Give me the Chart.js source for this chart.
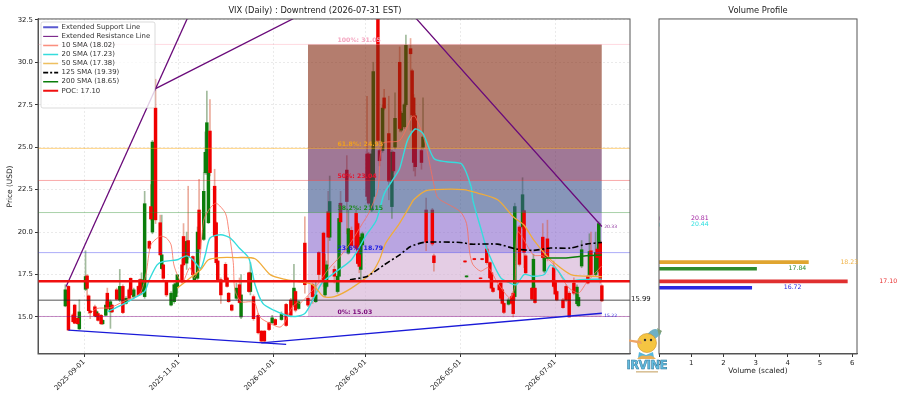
<!DOCTYPE html>
<html><head><meta charset="utf-8">
<style>
html,body{margin:0;padding:0;background:#fff;overflow:hidden}
#wrap{position:relative;width:900px;height:400px}
canvas{position:absolute;top:0}
#main{left:0}#vol{left:618px}
#logo{position:absolute;left:625px;top:325px}
</style>
<script src="https://cdn.jsdelivr.net/npm/chart.js@4/dist/chart.umd.min.js"></script>
</head><body><div id="wrap">
<canvas id="main" width="668" height="400"></canvas>
<canvas id="vol" width="279" height="400"></canvas>
<svg id="logo" width="46" height="50" viewBox="0 0 46 50">
<path d="M20 12 Q28 1 33 5 L36 9 L30 14Z" fill="#6fb0c4"/><path d="M32 3l5 3-3 5z" fill="#7f9f78"/>
<circle cx="22" cy="18" r="9.5" fill="#f5c542" stroke="#c98f2a" stroke-width=".6"/>
<path d="M16 16 L4 14.5 L4 16.5 L17 19Z" fill="#eea565"/>
<circle cx="20" cy="15" r="1.2" fill="#333"/><circle cx="26" cy="15" r="1.2" fill="#333"/>
<path d="M14 27 l7 3 7-3 1 6-8-2-8 2z" fill="#56b7dd"/>
<path d="M12 34 q4-5 9-3 q6-2 10 3z" fill="#e8b05a"/>
<text x="22" y="44" text-anchor="middle" font-family="DejaVu Sans" font-weight="bold" font-size="11.5" fill="#62bce0" stroke="#2e7496" stroke-width=".5" textLength="41">IRVINE</text>
<rect x="11" y="46" width="22" height="1.6" fill="#c9a66b" opacity=".7"/>
</svg>
</div>
<script>
// x values are calendar days counted from 2025-09-01
const tickDays=[0,61,122,181,242,303];
const tickLabels=['2025-09-01','2025-11-01','2026-01-01','2026-03-01','2026-05-01','2026-07-01'];
const priceTicks=[15,17.5,20,22.5,25,27.5,30,32.5];
const volumeTicks=[0,1,2,3,4,5,6];

const candleDays=[-12,-10,-7,-6,-4,-3,1,2,3,4,
7,8,9,11,12,14,15,17,18,21,
23,25,27,29,30,32,35,36,37,39,
42,43,44,46,49,50,51,53,56,58,
59,60,63,64,66,67,70,71,73,74,
77,78,79,80,81,84,85,86,88,91,
92,93,95,98,100,101,106,107,109,112,
114,116,119,121,123,127,130,133,135,136,
138,142,144,147,149,151,154,155,156,157,
158,161,163,164,165,169,170,172,175,176,
177,178,179,182,183,185,186,189,190,192,
193,196,198,199,200,203,204,206,207,210,
211,212,213,217,218,220,224,225,245,246,
251,255,256,259,261,262,263,267,268,269,
270,273,275,276,277,280,282,283,284,288,
289,290,295,296,298,302,303,304,308,310,
312,315,317,318,320,324,325,326,329,330,
331,332,333];
const candleOpens=[15.65,16.8,15.12,15.7,14.92,14.3,16.63,17.42,16.24,15.35,
15.6,15.02,15.2,15.1,14.6,15.1,16.4,15.3,15.7,16.6,
16,16.8,15.8,16.6,17.28,16.2,16.8,17.2,16.5,16.2,
19.45,21.5,20,27.3,20.55,17.85,18.07,17.09,15.7,15.9,
16.2,16.79,18.07,19.74,18.17,19.5,18.56,17.18,17.28,21.3,
19.57,23.5,23.5,20.55,25.95,22.7,20.55,18.3,17.2,18.1,
17.3,16.4,15.7,16.1,16.9,15,17.6,16.5,16.2,15.1,
14.17,14.17,14.66,14.66,14.85,14.85,15.74,16,15.7,16.5,
15.5,19.35,16.1,16.9,15.9,18.8,19.94,16.3,16.8,21.2,
19.7,17.8,16.5,17.4,21.7,23.65,18.76,20.1,21.1,20.5,
18.66,17.8,19.25,24.6,24.6,21.3,22.1,32.6,24.8,24.8,
27.9,25.8,21.5,24.7,25,30,26,26.2,27.5,30.8,
29.5,27.9,26.85,24.8,25,21.3,21.3,18.6,18.3,17.36,
18.44,17.3,18.44,19,18.2,17.6,16.7,16.9,17,16.6,
15.8,15.75,16.2,16.4,16.2,20.3,20.3,21.26,18.6,16.7,
16.7,16.7,19.7,17.7,19.6,17.9,17.03,16.5,16,16.8,
16.4,17,15.78,15.66,18,17.4,17.5,18.9,17.5,19,
17.7,19.4,16.84];
const candleCloses=[16.6,14.23,14.72,14.63,14.6,15.3,17.38,16.69,15.37,15.25,
15.06,15.31,14.8,14.6,14.8,15.7,15.5,15.9,15.3,16.04,
16.8,15.26,16.1,16.1,16.3,16.6,16.3,16.4,17.2,21.67,
19.05,20.77,25.3,20.72,18.66,18.66,17.28,16.3,16.4,16.9,
16.95,17.48,17.09,18.07,19.45,18.56,17.48,17.48,20,19,
22.4,24.7,26.44,23.5,23.5,19.76,18.2,17.2,16.3,17.2,
16.8,15.9,15.4,16.7,15.85,16.3,16.5,17.6,14.9,14.07,
13.58,13.58,14.26,14.95,14.55,15.15,14.5,15.1,16.7,15.4,
15.9,16.9,15.7,16.2,16.3,17.5,17.2,17.6,18.07,19.7,
21.8,17.4,17.4,20.8,20.6,21.8,20.2,19.2,19.05,18.15,
17.98,19.7,19.9,22.1,21.7,24.6,29.45,25.4,24.2,27.3,
27.3,23,24.7,23.6,26.7,26.1,27,27.5,31,30.5,
26.9,24.1,23.85,24.1,25.6,19.4,19.3,18.2,18.24,17.42,
18.38,17.26,18.38,18.2,17.3,16.7,16.5,16.6,16.1,15.8,
15.27,16,15.8,15.2,21.5,18.1,22.2,18.8,17.6,16.05,
18.4,15.85,18.5,18.6,18.5,16.8,16.35,16,15.55,16,
15,16.4,16.76,16.15,18.96,17,18.85,17.5,18.8,18.5,
20.5,17.1,15.95];
const candleHighs=[16.9,16.85,15.2,15.75,15,16,18.9,17.5,16.3,15.4,
15.7,15.4,15.3,15.15,14.85,15.9,16.7,16,15.75,16.7,
17.8,16.9,16.2,16.7,17.3,16.7,16.85,17.25,17.6,22.4,
19.5,22.8,25.4,29,21,21,18.1,17.1,16.5,17,
17,17.5,18.4,20.5,20,22.7,18.6,17.6,20.3,23.1,
23.5,25.9,28.3,23.6,27.8,23.7,20.6,18.35,17.3,18.2,
17.35,16.45,15.75,17,17.3,17.5,17.65,18.2,16.3,15.2,
14.2,14.2,14.7,15.1,14.9,15.3,15.8,16.1,18.1,16.6,
15.95,20.9,16.2,17,17.1,18.85,20,18.7,18.3,22.4,
23.3,18,17.5,21.7,22.4,24.5,21.3,20.3,21.3,20.6,
19.8,19.9,20,28,24.7,24.8,30,33,24.9,27.5,
28.4,28,24.8,24.75,28.2,30.9,27.1,27.6,31.6,31.4,
29.6,28.1,27,25,27.9,22,21.4,18.7,18.32,17.44,
18.46,17.32,18.46,19.2,18.25,17.65,16.75,16.95,17.1,16.65,
15.85,16.1,16.25,16.5,21.7,20.4,23.2,21.3,18.7,16.75,
18.7,16.9,20.5,19,20.7,18.3,17.1,16.55,16.1,16.9,
16.5,17.3,16.9,16.3,19.5,17.45,19.9,20,20,19.1,
20.6,19.5,16.9];
const candleLows=[15.6,14.2,14.7,14.6,14.55,14.25,16.55,15.95,15.2,14.9,
15,15,14.75,14.55,14.55,15.05,15.4,14.33,15.25,16,
15.9,15.2,15.75,16.05,16.15,16.15,16.25,16.3,16.3,16.1,
19,20.7,19.9,20.5,18.6,17.8,17.2,16.2,15.65,15.8,
16.1,16.4,17,18,17.8,18.4,17.3,17.1,17.2,18.8,
19.5,23.4,23.4,20.5,23.3,19.7,18.1,17.15,15.8,17.1,
16.75,15.85,15.35,16,15.8,14.9,16.45,16.3,14.8,14,
13.5,13.5,14.2,14.6,14.5,14.8,14.45,15,15.6,15.3,
15.45,16.4,15.6,15.8,15.85,17.2,16.8,16.2,16.7,18,
19.5,17,16.4,16.5,19.3,19.9,18.7,19,19,18.1,
17.6,17.1,19.2,21.9,21.6,21.2,22,25.2,23.9,24.7,
27.2,21.9,20.8,23.5,24.9,25.9,25.9,26.1,27.4,26,
26.8,23.6,23.3,23.7,24.9,18.9,19.2,17.7,18.22,17.34,
18.36,17.24,18.36,18.1,17.25,16.65,16.45,16.55,16,15.75,
15.2,15.7,15.75,15,16,18,20.2,17.9,17.5,16,
16,15.8,18.4,17.6,18.3,16.7,16.3,15.95,15.5,15.9,
15,16.3,15.7,15.6,17.9,16.95,17.4,17.4,17.4,18.4,
17.6,17,15.9];

const sma10Days=[4,8,17,25,36,40,43,49,53,56,58,63,68,71,74,77,81,85,91,93,96,97,101,107,110,113,120,126,129,133,137,139,150,157,165,172,179,183,189,192,203,211,213,219,225,227,229,242,246,248,250,255,260,266,274,277,279,289,295,302,308,312,318,323,333];
const sma10Values=[15.2,15.5,15.55,15.9,16.4,17.6,19.25,19.75,19.65,19.25,18,17,17.9,17.3,18,20.7,21.4,21.7,21.1,20.15,18.2,16.6,15.9,15.9,15.8,15,14.6,14.4,14.66,15.45,15.85,15.8,16.9,17.8,18.6,19.45,20.5,21.1,22.5,25.2,25.4,26.8,26.8,25.4,22.8,22.1,21.9,21.2,20.5,18.8,18.1,17.7,17.9,17,16.1,16.8,20,18.65,18.6,18.1,17.2,16.7,16.4,17,18.02];
const sma20Days=[15,24,32,39,42,47,51,60,66,70,75,78,81,88,94,100,106,110,115,122,130,136,142,146,153,161,172,181,188,193,198,203,208,213,218,225,233,243,249,250,256,259,268,274,278,283,289,296,300,305,310,319,333];
const sma20Values=[15.3,15.7,16.1,16.5,17.2,18.07,18.27,18.37,18.6,18.37,17.87,18.66,19.65,19.84,19.65,19.05,18.46,16.9,15.8,15.4,15.1,15.03,15.2,15.8,17,17.6,18.37,19.75,20.7,22.25,23,23.75,25.4,26.07,25.8,24.33,24.14,24,22.65,21.9,19.95,19,17.3,17,16.9,17.5,17.4,17.5,18.07,17.7,17.1,17.2,17.23];
const sma50Days=[60,68,75,80,88,98,110,120,130,137,147,154,161,172,185,190,194,203,210,212,219,225,244,253,266,276,283,289,297,304,313,323,333];
const sma50Values=[16.7,17.28,17.78,18.37,18.5,18.5,18.43,17.48,17.2,17.1,16.9,16.2,16.2,16.7,17.6,18.37,19.35,20.53,21.6,21.9,22.4,22.5,22.5,22.3,21.9,20.9,20.4,19.55,18.66,18.07,17.5,17.4,17.38];
const sma125Days=[171,182,193,203,210,219,242,249,266,278,289,300,313,323,333];
const sma125Values=[17.19,17.39,18.07,18.66,19.15,19.4,19.39,19.29,19.29,19,18.92,19.06,19.06,19.29,19.39];
const sma200Days=[297,310,323,333];
const sma200Values=[18.47,18.47,18.6,18.65];

const fibLevels=[31.05,24.93,23.04,21.15,18.79,15.03];
const fibNames=['100%: 31.05','61.8%: 24.93','50%: 23.04','38.2%: 21.15','23.6%: 18.79','0%: 15.03'];
const fibLineColors=['rgba(255,150,170,.35)','rgba(255,165,0,.5)','rgba(240,40,40,.4)','rgba(40,140,40,.4)','rgba(50,50,240,.4)','rgba(128,0,128,.45)'];
const fibTextColors=['#f4a6c0','#f0a020','#e8102a','#1f8a1f','#1c1ce0','#7a0a7a'];
const fibZoneColors=['rgba(130,38,13,.6)','rgba(97,30,80,.6)','rgba(55,80,138,.6)','rgba(138,105,205,.6)','rgba(210,172,210,.6)'];
const fibZoneOrders=[20,20,20,50,50];
const fibStartDay=144, fibEndDay=333;
const pocPrice=17.10, lastClosePrice=15.99;

const supportADays=[-10,130], supportAValues=[14.23,13.39];
const supportBDays=[114,333], supportBValues=[13.47,15.22];
const resistanceADays=[-11.5,70], resistanceAValues=[16.8,33.3];
const resistanceBDays=[46,189,333], resistanceBValues=[28.45,35.1,20.33];

const legendNames=['Extended Support Line','Extended Resistance Line','10 SMA (18.02)','20 SMA (17.23)','50 SMA (17.38)','125 SMA (19.39)','200 SMA (18.65)','POC: 17.10'];

const profilePrices=[20.81,20.44,18.23,17.84,17.10,16.72];
const profileVolumes=[0,0,4.64,3.03,5.85,2.88];
const profileColors=['#8b1a9b','#2fe0e0','#e0a530','#2e8b2e','#e03030','#2a2ae0'];
const profileTextColors=['#a020a0','#30e0e0','#f0b040','#2e8b2e','#e83030','#2a2ae0'];

const F="'DejaVu Sans'";
const xMin=-29.58,xMax=351.1,yMin=12.82,yMax=32.55;
Chart.defaults.font.family=F;
Chart.defaults.color='#222';
Chart.defaults.devicePixelRatio=1;

const zip=(xs,ys)=>xs.map((x,i)=>({x,y:ys[i]}));
const line=(label,days,vals,color,width,order,extra={})=>({type:'line',label,data:zip(days,vals),borderColor:color,backgroundColor:color,borderWidth:width,pointRadius:0,fill:false,order,...extra});
const hline=(v,color,width,order,label)=>line(label,[xMin,xMax],[v,v],color,width,order);
const idx=candleDays.map((_,i)=>i);
const isGreen=i=>candleCloses[i]>=candleOpens[i];
const bodies=(label,sel,color,order)=>({type:'bar',label,grouped:false,barThickness:2.8,backgroundColor:color,order,data:idx.filter(sel).map(i=>({x:candleDays[i],y:[candleOpens[i],candleCloses[i]]}))});
const wicks=(label,sel,color,order)=>({type:'bar',label,grouped:false,barThickness:1,backgroundColor:color,order,data:idx.filter(sel).map(i=>({x:candleDays[i],y:[candleLows[i],candleHighs[i]]}))});
const notGreen=i=>!isGreen(i);

const datasets=[
 wicks('wick up',isGreen,'rgba(70,120,60,.5)',41),
 wicks('wick down',notGreen,'rgba(215,90,60,.5)',40),
 bodies('up',isGreen,'#0a7d0a',31),
 bodies('down',notGreen,'#f00000',30),
];
fibZoneColors.forEach((c,i)=>datasets.push(line('zone'+i,[fibStartDay,fibEndDay],[fibLevels[i],fibLevels[i]],'rgba(0,0,0,0)',0,fibZoneOrders[i],{backgroundColor:c,fill:{value:fibLevels[i+1]}})));
fibLevels.forEach((v,i)=>datasets.push(hline(v,fibLineColors[i],1,15,'fib'+i)));
datasets.push(hline(lastClosePrice,'rgba(40,40,40,.8)',1,14,'last'));
datasets.push(line('sma10',sma10Days,sma10Values,'rgba(250,110,90,.8)',1,11,{tension:.25}));
datasets.push(line('sma20',sma20Days,sma20Values,'#35dcdc',1.4,10,{tension:.25}));
datasets.push(line('sma50',sma50Days,sma50Values,'#f0ac3a',1.3,9,{tension:.25}));
datasets.push(line('sma125',sma125Days,sma125Values,'#000',1.6,8,{borderDash:[6,2.5,2,2.5],tension:.2}));
datasets.push(line('sma200',sma200Days,sma200Values,'#0a7d0a',1.5,7));
datasets.push(line('supA',supportADays,supportAValues,'#1a1ad8',1.3,6));
datasets.push(line('supB',supportBDays,supportBValues,'#1a1ad8',1.3,6));
datasets.push(line('resA',resistanceADays,resistanceAValues,'#6a0a7a',1.3,6));
datasets.push(line('resB',resistanceBDays,resistanceBValues,'#6a0a7a',1.3,6));
datasets.push(hline(pocPrice,'#f01010',2.4,5,'poc'));

const legendStyles=[['#5a5ad0',2,[]],['#6a0a7a',1,[]],['#fa8f7e',1.5,[]],['#35dcdc',1.5,[]],['#eec060',1.5,[]],['#000',1.6,[5,2,2,2]],['#0a7d0a',1.5,[]],['#f01010',2,[]]];

const pane={id:'pane',
 afterInit(c){
  const lg=c.legend;
  lg._layers=()=>[{z:50,draw(){
    const g=c.ctx;g.save();
    g.fillStyle='rgba(255,255,255,.8)';g.strokeStyle='rgba(200,200,200,.8)';g.lineWidth=.8;
    g.beginPath();g.roundRect(41,22,114,86,2);g.fill();g.stroke();g.restore();
    lg.left=41;lg.right=155;lg.top=21.7;lg.bottom=108;lg.width=114;lg.height=86.3;
    lg.draw();
  }}];
 },
 afterDraw(c){
  const g=c.ctx,a=c.chartArea,x=c.scales.x,y=c.scales.y;
  g.save();g.strokeStyle='#555';g.lineWidth=1;g.strokeRect(a.left,a.top,a.width,a.height);
  g.textBaseline='middle';g.textAlign='left';
  g.font='bold 6.2px '+F;
  fibNames.forEach((t,i)=>{g.fillStyle=fibTextColors[i];g.fillText(t,x.getPixelForValue(163),y.getPixelForValue(fibLevels[i])-4);});
  g.font='6.9px '+F;g.fillStyle='#111';g.fillText(lastClosePrice.toFixed(2),a.right+1,y.getPixelForValue(lastClosePrice)-1);
  g.font='4.5px '+F;
  g.fillStyle='#8a2a9a';g.fillText(resistanceBValues[2].toFixed(2),x.getPixelForValue(334.5),y.getPixelForValue(resistanceBValues[2]));
  g.fillStyle='#2a2ae0';g.fillText(supportBValues[1].toFixed(2),x.getPixelForValue(334.5),y.getPixelForValue(supportBValues[1])+3);
  g.restore();
 }};

new Chart(document.getElementById('main'),{
 type:'bar',
 data:{datasets},
 plugins:[pane],
 options:{
  responsive:false,animation:false,events:[],
  layout:{padding:{left:0,right:38,top:0,bottom:0}},
  plugins:{
   filler:{drawTime:'beforeDatasetDraw',propagate:false},
   tooltip:{enabled:false},
   title:{display:true,text:'VIX (Daily) : Downtrend (2026-07-31 EST)',font:{size:8.3,weight:'normal'},color:'#222',padding:{top:6,bottom:3}},
   legend:{display:true,position:'chartArea',align:'start',onClick:null,
    labels:{font:{size:6.9},color:'#333',padding:2.16,usePointStyle:true,pointStyle:'line',pointStyleWidth:15,boxHeight:7,
     generateLabels:()=>legendNames.map((text,i)=>({text,fontColor:'#333',strokeStyle:legendStyles[i][0],fillStyle:legendStyles[i][0],lineWidth:legendStyles[i][1],lineDash:legendStyles[i][2],pointStyle:'line',hidden:false,datasetIndex:0}))}}
  },
  scales:{
   x:{type:'linear',offset:false,min:xMin,max:xMax,
    afterBuildTicks:s=>{s.ticks=tickDays.map(value=>({value}));},
    afterFit:s=>{s.height=46;},
    grid:{offset:false,color:'rgba(170,170,170,.25)',tickColor:'#333',tickLength:3,tickBorderDash:[]},
    border:{color:'#555',dash:[2,2]},
    ticks:{autoSkip:false,maxRotation:45,minRotation:45,font:{size:6.9},color:'#222',padding:1,callback:v=>tickLabels[tickDays.indexOf(v)]}},
   y:{type:'linear',min:yMin,max:yMax,
    afterBuildTicks:s=>{s.ticks=priceTicks.map(value=>({value}));},
    afterFit:s=>{s.width=38;},
    grid:{color:'rgba(170,170,170,.25)',tickColor:'#333',tickLength:3,tickBorderDash:[]},
    border:{color:'#555',dash:[2,2]},
    title:{display:true,text:'Price (USD)',font:{size:7.4},color:'#222',padding:{top:6,bottom:0}},
    ticks:{font:{size:6.9},color:'#222',padding:2,callback:v=>v.toFixed(1)}}
  }
 }
});

const volPane={id:'volPane',afterDraw(c){
  const g=c.ctx,a=c.chartArea,x=c.scales.x,y=c.scales.y;
  g.save();g.strokeStyle='#555';g.lineWidth=1;g.strokeRect(a.left,a.top,a.width,a.height);
  g.font='6.2px '+F;g.textAlign='center';g.textBaseline='middle';
  profilePrices.forEach((p,i)=>{g.fillStyle=profileTextColors[i];g.fillText(p.toFixed(2),x.getPixelForValue(profileVolumes[i]+1.27),y.getPixelForValue(p));});
  g.restore();
}};
new Chart(document.getElementById('vol'),{
 type:'bar',
 data:{datasets:[{label:'Volume',data:profilePrices.map((y,i)=>({x:profileVolumes[i],y})),backgroundColor:profileColors,barThickness:3}]},
 plugins:[volPane],
 options:{
  indexAxis:'y',responsive:false,animation:false,events:[],
  layout:{padding:{left:41,right:40,top:0,bottom:0}},
  plugins:{legend:{display:false},tooltip:{enabled:false},
   title:{display:true,text:'Volume Profile',font:{size:8.3,weight:'normal'},color:'#222',padding:{top:6,bottom:3}}},
  scales:{
   y:{type:'linear',display:false,min:yMin,max:yMax,offset:false},
   x:{type:'linear',min:0,max:6.15,offset:false,
    afterBuildTicks:s=>{s.ticks=volumeTicks.map(value=>({value}));},
    afterFit:s=>{s.height=46;},
    grid:{drawOnChartArea:false,tickColor:'#333',tickLength:3},
    border:{color:'#555'},
    title:{display:true,text:'Volume (scaled)',font:{size:7.4},color:'#222',padding:{top:1,bottom:24}},
    ticks:{font:{size:6.9},color:'#222',padding:2,maxRotation:0,callback:v=>String(v)}}
  }
 }
});
</script></body></html>
